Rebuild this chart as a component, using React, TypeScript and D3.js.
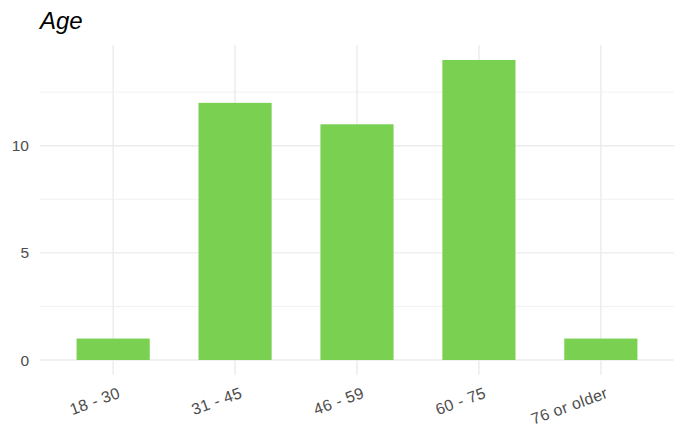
import React from "react";
import * as d3 from "d3";

const categories = ["18 - 30", "31 - 45", "46 - 59", "60 - 75", "76 or older"];
const counts = [1, 12, 11, 14, 1];
const majorTicks = [0, 5, 10];
const minorTicks = [2.5, 7.5, 12.5];
const title = "Age";

export default function App() {
  const W = 685, H = 442;
  const left = 40, right = 674, top = 45, bottom = 375;
  const n = categories.length;
  const step = (right - left) / (n - 1 + 1.2);
  const x = (i: number) => left + step * (0.6 + i);
  const maxV = d3.max(counts) as number;
  const y = d3.scaleLinear().domain([-maxV * 0.05, maxV * 1.05]).range([bottom, top]);
  const bw = step * 0.6;
  const grid = "#EBEBEB";
  const font = "'Liberation Sans', Arial, sans-serif";
  return (
    <svg width={W} height={H} style={{ position: "absolute", left: 0, top: 0, background: "#fff" }}>
      <text x={40} y={29} fontFamily={font} fontStyle="italic" fontSize={24} fill="#000">{title}</text>
      {minorTicks.map((t) => (
        <line key={"mn" + t} x1={left} x2={right} y1={y(t)} y2={y(t)} stroke={grid} strokeWidth={0.7} />
      ))}
      {majorTicks.map((t) => (
        <line key={"mj" + t} x1={left} x2={right} y1={y(t)} y2={y(t)} stroke={grid} strokeWidth={1.4} />
      ))}
      {categories.map((c, i) => (
        <line key={"v" + c} x1={x(i)} x2={x(i)} y1={top} y2={bottom} stroke={grid} strokeWidth={1.4} />
      ))}
      {counts.map((v, i) => (
        <rect key={"b" + i} x={x(i) - bw / 2} width={bw} y={y(v)} height={y(0) - y(v)} fill="#7AD151" />
      ))}
      {majorTicks.map((t) => (
        <text key={"yl" + t} x={29} y={y(t)} dy="0.36em" textAnchor="end" fontFamily={font} fontSize={15.5} fill="#4D4D4D">{t}</text>
      ))}
      {categories.map((c, i) => (
        <text key={"xl" + c} textAnchor="end" fontFamily={font} fontSize={16} letterSpacing={0.35} fill="#4D4D4D"
          transform={`translate(${x(i) + 4},${386}) rotate(-20)`} dy="0.75em">{c}</text>
      ))}
    </svg>
  );
}
